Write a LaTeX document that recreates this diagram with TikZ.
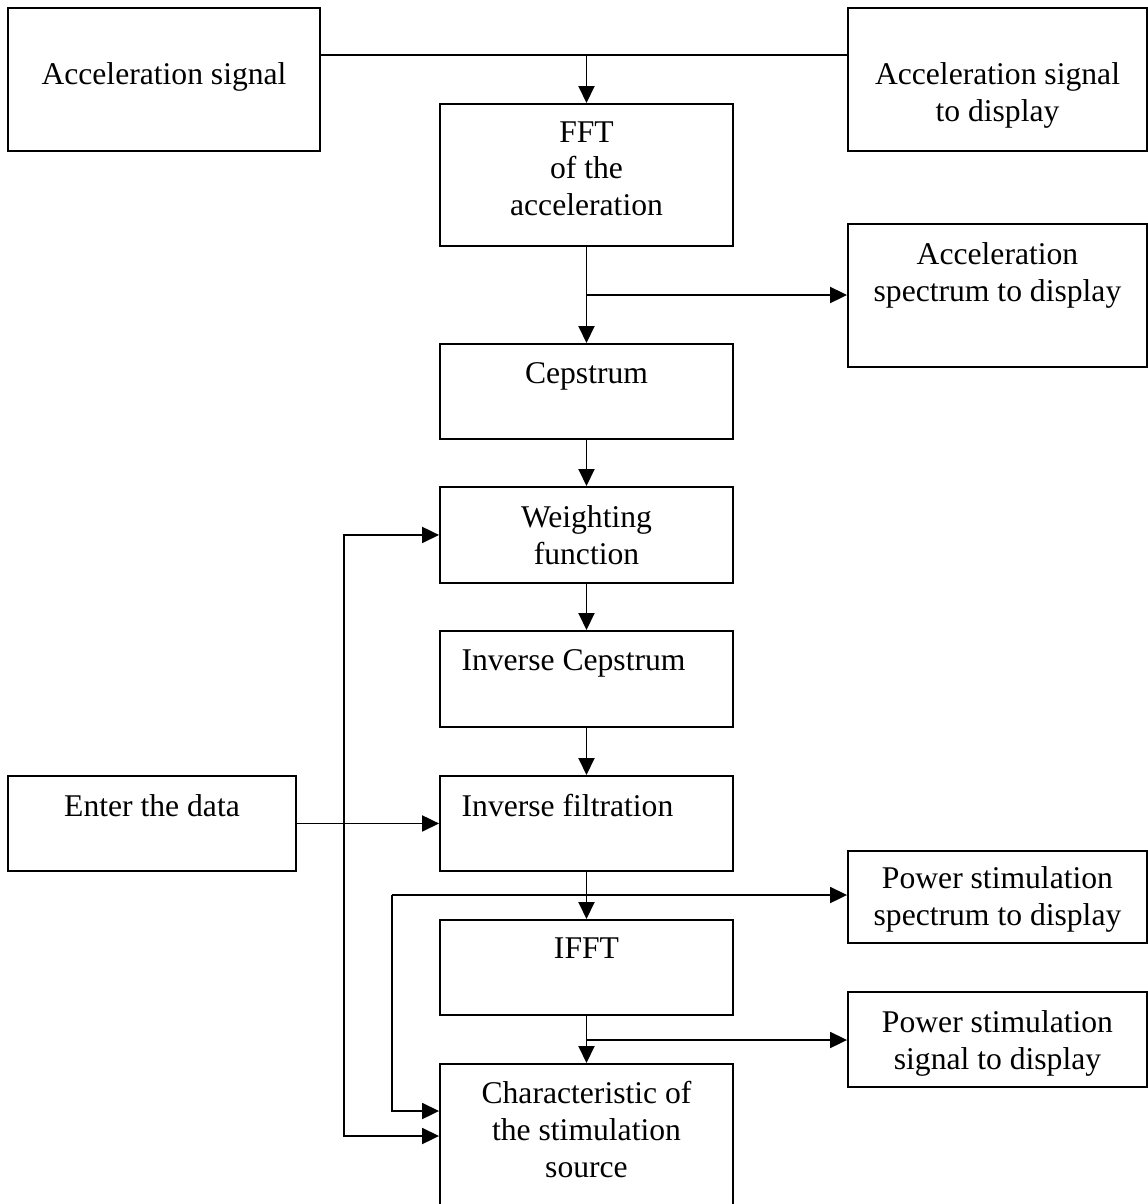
\documentclass[tikz,border=0pt]{standalone}
\usepackage{fontspec}
\setmainfont{Liberation Serif}
\usetikzlibrary{arrows.meta}
\tikzset{>={Triangle[width=0.32cm,length=0.34cm]}}
\tikzset{
  blk/.style={draw, line width=1.1pt, inner sep=0pt, anchor=north},
  lbl/.style={anchor=north, yshift=-0.38cm, align=center, inner sep=0pt,
    font=\fontsize{18}{21}\selectfont},
  wire/.style={line width=1.1pt}
}

\begin{document}
\begin{tikzpicture}[x=0.02cm, y=-0.02cm]
      \useasboundingbox (0,0) rectangle (1148,1204);

      % left column and display boxes
      \node[blk, minimum width=6.24cm, minimum height=2.86cm,
        label={[lbl, yshift=-0.72cm]north:Acceleration signal}] (acc) at (164,7) {};
      \node[blk, minimum width=5.98cm, minimum height=2.86cm,
        label={[lbl, yshift=-0.72cm]north:Acceleration signal\\to display}] (accd) at (997.5,7) {};
      \node[blk, minimum width=5.86cm, minimum height=2.84cm,
        label={[lbl, yshift=0.02cm]north:FFT\\of the\\acceleration}] (fft) at (586.5,103) {};
      \node[blk, minimum width=5.98cm, minimum height=2.86cm,
        label={[lbl]north:Acceleration\\spectrum to display}] (accsp) at (997.5,223) {};
      \node[blk, minimum width=5.86cm, minimum height=1.9cm,
        label={[lbl]north:Cepstrum}] (cep) at (586.5,343) {};
      \node[blk, minimum width=5.86cm, minimum height=1.92cm,
        label={[lbl]north:Weighting\\function}] (wgt) at (586.5,486) {};
      \node[blk, minimum width=5.86cm, minimum height=1.92cm,
        label={[lbl, xshift=-0.26cm]north:Inverse Cepstrum}] (icep) at (586.5,630) {};
      \node[blk, minimum width=5.86cm, minimum height=1.9cm,
        label={[lbl, xshift=-0.38cm]north:Inverse filtration}] (ifil) at (586.5,775) {};
      \node[blk, minimum width=5.76cm, minimum height=1.9cm,
        label={[lbl]north:Enter the data}] (enter) at (152,775) {};
      \node[blk, minimum width=5.86cm, minimum height=1.9cm,
        label={[lbl, yshift=0.02cm]north:IFFT}] (ifft) at (586.5,919) {};
      \node[blk, minimum width=5.98cm, minimum height=1.84cm,
        label={[lbl, yshift=0.06cm]north:Power stimulation\\spectrum to display}] (psp) at (997.5,850) {};
      \node[blk, minimum width=5.98cm, minimum height=1.9cm,
        label={[lbl]north:Power stimulation\\signal to display}] (psig) at (997.5,991) {};
      \node[blk, minimum width=5.86cm, minimum height=3.2cm,
        label={[lbl, yshift=0.02cm]north:Characteristic of\\the stimulation\\source}] (chr) at (586.5,1063) {};

      % junction points
      \coordinate (top) at (586.5,55);
      \coordinate (b1) at (586.5,295);
      \coordinate (jn) at (344,823);
      \coordinate (b2) at (392,895);
      \coordinate (b3) at (586.5,1040);

      \draw[wire] (acc.east |- top) -- (accd.west |- top);
      \draw[wire, ->] (top) -- (fft.north);
      \draw[wire, ->] (fft) -- (cep);
      \draw[wire, ->] (b1) -- (b1 -| accsp.west);
      \draw[wire, ->] (cep) -- (wgt);
      \draw[wire, ->] (wgt) -- (icep);
      \draw[wire, ->] (icep) -- (ifil);
      \draw[wire, ->] (ifil) -- (ifft);
      \draw[wire, ->] (ifft) -- (chr);
      \draw[wire, ->] (enter) -- (ifil);
      \draw[wire, ->] (jn) |- (wgt.west);
      \draw[wire, ->] (jn) |- (chr.west |- 0,1136);
      \draw[wire, ->] (b2) -- (b2 -| psp.west);
      \draw[wire, ->] (b2) |- (chr.west |- 0,1111);
      \draw[wire, ->] (b3) -- (b3 -| psig.west);
    \end{tikzpicture}
\end{document}
